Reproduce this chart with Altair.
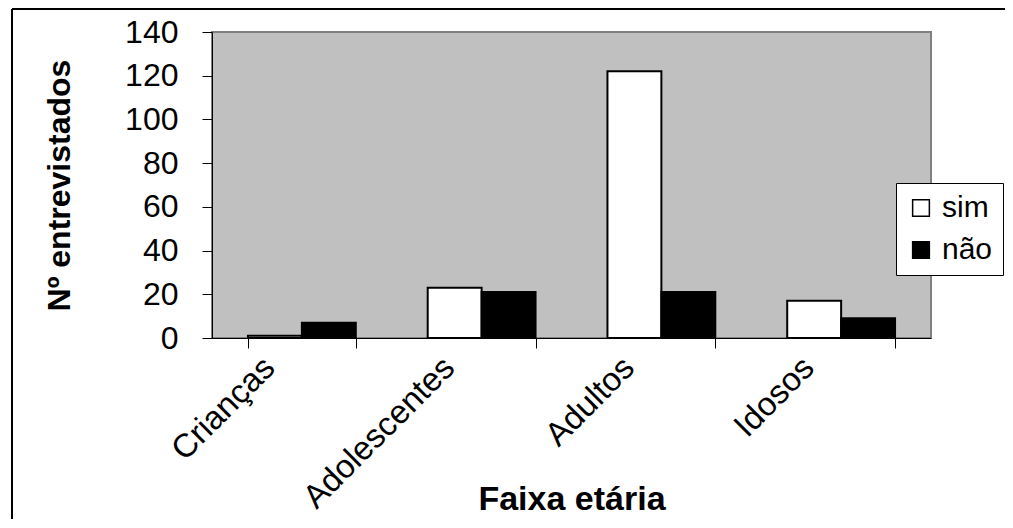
import altair as alt
import pandas as pd

categories = ["Crianças", "Adolescentes", "Adultos", "Idosos"]
sim = [1, 23, 122, 17]
nao = [7, 21, 21, 9]
series = ["sim", "não"]

rows = []
for c, s, n in zip(categories, sim, nao):
    rows.append({"faixa": c, "serie": "sim", "valor": s})
    rows.append({"faixa": c, "serie": "não", "valor": n})
df = pd.DataFrame(rows)

FONT = "Liberation Sans"

bars = alt.Chart(df).mark_bar(stroke="black", strokeWidth=2).encode(
    x=alt.X("faixa:N", sort=categories,
            scale=alt.Scale(paddingInner=0.4, paddingOuter=0.2),
            axis=alt.Axis(title="Faixa etária", labelAngle=315, labelAlign="right",
                          labelBaseline="top", labelPadding=3, labelOffset=-44,
                          tickBand="extent", tickSize=10, tickColor="black",
                          domainColor="black", labelFont=FONT, labelFontSize=33,
                          labelColor="black", titleFont=FONT, titleFontSize=34,
                          titleFontWeight="bold", titleColor="black",
                          titleY=171, titleBaseline="alphabetic",
                          labelLimit=500)),
    xOffset=alt.XOffset("serie:N", sort=series),
    y=alt.Y("valor:Q", scale=alt.Scale(domain=[0, 140]),
            axis=alt.Axis(title="Nº entrevistados", values=list(range(0, 141, 20)),
                          grid=False, tickSize=10, tickColor="black", domainColor="black",
                          labelFont=FONT, labelFontSize=32, labelColor="black",
                          labelPadding=24, titleFont=FONT, titleFontSize=32,
                          titleFontWeight="bold", titleColor="black", titlePadding=48)),
    fill=alt.Fill("serie:N", sort=series,
                  scale=alt.Scale(domain=series, range=["white", "black"]),
                  legend=alt.Legend(title=None, orient="none", legendX=684, legendY=151,
                                    fillColor="white", strokeColor="black",
                                    padding=10, rowPadding=12, symbolType="square",
                                    symbolSize=280, symbolStrokeColor="black",
                                    symbolStrokeWidth=1.5, labelFont=FONT,
                                    labelFontSize=30, labelColor="black",
                                    symbolOffset=0, labelOffset=6)),
)

frame_top = alt.Chart(df).mark_rule(color="black", strokeWidth=2, clip=False).encode(
    x=alt.value(-200), x2=alt.value(900), y=alt.value(-23)
)
frame_left = alt.Chart(df).mark_rule(color="black", strokeWidth=2, clip=False).encode(
    x=alt.value(-200), y=alt.value(-23), y2=alt.value(520)
)

chart = alt.layer(frame_top, frame_left, bars).properties(
    width=719, height=306,
    autosize=alt.AutoSizeParams(type="none"),
    padding={"left": 204, "top": 24, "right": 74, "bottom": 181},
    background="white",
).configure_view(fill="#C0C0C0", stroke="#808080", strokeWidth=2)

chart.save("out.html", embed_options={"renderer": "svg", "actions": False})
